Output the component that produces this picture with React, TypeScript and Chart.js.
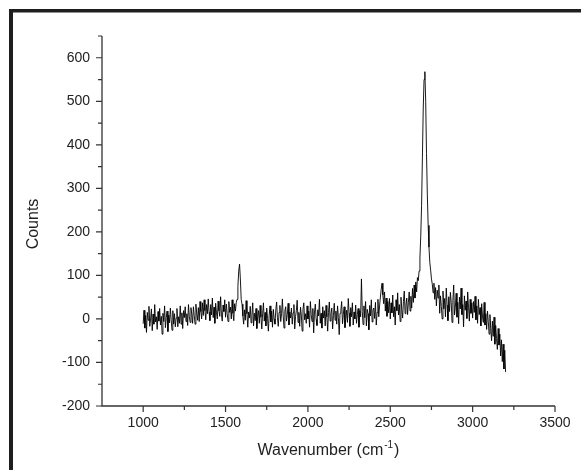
import React, { useEffect, useRef } from "react";
import { Chart, registerables } from "chart.js";

Chart.register(...registerables);

const WAVENUMBERS = [
  1000, 1005, 1010, 1015, 1020, 1025, 1030, 1035, 1040, 1045, 1050, 1055, 1060, 1065, 1070, 1075, 1080, 1085, 1090, 1095,
  1100, 1105, 1110, 1115, 1120, 1125, 1130, 1135, 1140, 1145, 1150, 1155, 1160, 1165, 1170, 1175, 1180, 1185, 1190, 1195,
  1200, 1205, 1210, 1215, 1220, 1225, 1230, 1235, 1240, 1245, 1250, 1255, 1260, 1265, 1270, 1275, 1280, 1285, 1290, 1295,
  1300, 1305, 1310, 1315, 1320, 1325, 1330, 1335, 1340, 1345, 1350, 1355, 1360, 1365, 1370, 1375, 1380, 1385, 1390, 1395,
  1400, 1405, 1410, 1415, 1420, 1425, 1430, 1435, 1440, 1445, 1450, 1455, 1460, 1465, 1470, 1475, 1480, 1485, 1490, 1495,
  1500, 1505, 1510, 1515, 1520, 1525, 1530, 1535, 1540, 1545, 1550, 1555, 1560, 1565, 1570, 1575, 1580, 1585, 1590, 1595,
  1600, 1605, 1610, 1615, 1620, 1625, 1630, 1635, 1640, 1645, 1650, 1655, 1660, 1665, 1670, 1675, 1680, 1685, 1690, 1695,
  1700, 1705, 1710, 1715, 1720, 1725, 1730, 1735, 1740, 1745, 1750, 1755, 1760, 1765, 1770, 1775, 1780, 1785, 1790, 1795,
  1800, 1805, 1810, 1815, 1820, 1825, 1830, 1835, 1840, 1845, 1850, 1855, 1860, 1865, 1870, 1875, 1880, 1885, 1890, 1895,
  1900, 1905, 1910, 1915, 1920, 1925, 1930, 1935, 1940, 1945, 1950, 1955, 1960, 1965, 1970, 1975, 1980, 1985, 1990, 1995,
  2000, 2005, 2010, 2015, 2020, 2025, 2030, 2035, 2040, 2045, 2050, 2055, 2060, 2065, 2070, 2075, 2080, 2085, 2090, 2095,
  2100, 2105, 2110, 2115, 2120, 2125, 2130, 2135, 2140, 2145, 2150, 2155, 2160, 2165, 2170, 2175, 2180, 2185, 2190, 2195,
  2200, 2205, 2210, 2215, 2220, 2225, 2230, 2235, 2240, 2245, 2250, 2255, 2260, 2265, 2270, 2275, 2280, 2285, 2290, 2295,
  2300, 2305, 2310, 2315, 2320, 2325, 2330, 2335, 2340, 2345, 2350, 2355, 2360, 2365, 2370, 2375, 2380, 2385, 2390, 2395,
  2400, 2405, 2410, 2415, 2420, 2425, 2430, 2435, 2440, 2445, 2450, 2455, 2460, 2465, 2470, 2475, 2480, 2485, 2490, 2495,
  2500, 2505, 2510, 2515, 2520, 2525, 2530, 2535, 2540, 2545, 2550, 2555, 2560, 2565, 2570, 2575, 2580, 2585, 2590, 2595,
  2600, 2605, 2610, 2615, 2620, 2625, 2630, 2635, 2640, 2645, 2650, 2655, 2660, 2665, 2670, 2675, 2680, 2685, 2690, 2695,
  2700, 2705, 2710, 2715, 2720, 2725, 2730, 2735, 2740, 2745, 2750, 2755, 2760, 2765, 2770, 2775, 2780, 2785, 2790, 2795,
  2800, 2805, 2810, 2815, 2820, 2825, 2830, 2835, 2840, 2845, 2850, 2855, 2860, 2865, 2870, 2875, 2880, 2885, 2890, 2895,
  2900, 2905, 2910, 2915, 2920, 2925, 2930, 2935, 2940, 2945, 2950, 2955, 2960, 2965, 2970, 2975, 2980, 2985, 2990, 2995,
  3000, 3005, 3010, 3015, 3020, 3025, 3030, 3035, 3040, 3045, 3050, 3055, 3060, 3065, 3070, 3075, 3080, 3085, 3090, 3095,
  3100, 3105, 3110, 3115, 3120, 3125, 3130, 3135, 3140, 3145, 3150, 3155, 3160, 3165, 3170, 3175, 3180, 3185, 3190, 3195,
  3200,
];

const COUNTS = [
  -11, 20, -21, 8, -31, 15, -3, 29, -17, 0, 23, -27, 11, -12, 33, -7, 5, -24, 17, -5,
  24, -14, 6, -35, 13, -6, 30, -20, 3, 18, -29, 9, -9, 25, -2, -26, 19, -12, 12, -18,
  2, 24, -18, 5, -10, 30, -12, 14, -22, 19, 3, 28, -6, 12, -15, 33, 6, -8, 26, 11,
  -10, 28, 8, -12, 34, 13, -3, 26, -6, 40, 17, 0, 37, 8, 44, 19, -2, 33, 12, 46,
  16, -4, 33, 9, 48, 3, 27, -10, 36, 14, 0, 41, 19, 6, 51, 11, -5, 32, 17, 44,
  4, 34, 12, -6, 40, 15, 27, 0, 44, 13, -4, 35, 18, 38, 45, 75, 110, 126, 92, 45,
  34, 7, -12, 21, -3, 42, 12, -19, 16, 2, 29, -9, 8, 37, -16, 13, -4, 24, -22, 5,
  19, -10, 31, 4, -23, 12, 37, -5, 15, -16, 25, 1, -28, 9, 30, -7, 18, -19, 22, 0,
  -12, 21, 39, 3, -17, 15, 31, -6, 12, 46, 7, -21, 18, 28, -5, 10, 36, -14, 16, 2,
  25, -12, 14, 33, -23, 6, 20, 43, -8, 15, -17, 27, 9, -28, 22, 37, -2, 12, -10, 30,
  0, 18, -19, 40, 10, -6, 24, -32, 16, 34, -1, -15, 21, 7, 45, -10, 13, -21, 28, 2,
  19, -16, 31, 5, -28, 15, 39, -5, 12, 25, -23, 8, 36, -3, 18, -12, 30, 3, -36, 13,
  20, 40, -11, 10, 28, -20, 1, 20, -8, 47, 14, -17, 26, 5, 37, -14, 16, 0, 32, -10,
  10, 24, -19, 19, 5, 92, 17, -13, 30, 3, 40, -16, 22, 12, -25, 31, 7, 44, -7, 20,
  25, 1, 38, -14, 15, 45, 5, 30, 50, 68, 82, 55, 35, 62, 18, 48, 6, 40, 14, 47,
  0, 37, 14, 55, 5, 28, -14, 44, 19, 60, 9, 33, -6, 50, 22, 2, 40, 64, 12, 31,
  48, 10, 38, 62, 18, 52, 25, 70, 38, 78, 48, 85, 62, 95, 88, 110, 140, 190, 260, 370,
  480, 550, 568, 500, 380, 285, 215, 165, 130, 112, 92, 80, 60, 82, 45, 72, 30, 66, 48, 78,
  13, 53, 29, 0, 64, 23, 47, 5, 71, 32, -4, 51, 17, 61, 38, -8, 42, 78, 9, 27,
  59, 4, 38, -11, 50, 23, 71, 10, 33, -18, 53, 20, 41, 1, 62, 27, -5, 45, 13, 37,
  2, 40, 15, 52, -2, 30, -10, 45, 10, 26, -16, 35, 4, -8, 38, -14, 12, -24, 18, -6,
  -35, 10, -22, -50, -5, -40, 4, -58, -15, -45, -70, -22, -60, -35, -85, -48, -98, -58, -115, -72,
  -122,
];

const X_MIN = 750;
const X_MAX = 3500;
const Y_MIN = -200;
const Y_MAX = 650;
const X_MAJOR_TICKS = [1000, 1500, 2000, 2500, 3000, 3500];
const X_MINOR_TICKS = [1250, 1750, 2250, 2750, 3250];
const Y_MAJOR_TICKS = [-200, -100, 0, 100, 200, 300, 400, 500, 600];
const Y_MINOR_TICKS = [-150, -50, 50, 150, 250, 350, 450, 550, 650];
const X_TITLE_MAIN = "Wavenumber (cm";
const X_TITLE_SUP = "-1";
const X_TITLE_END = ")";
const Y_TITLE = "Counts";

const FONT_FAMILY = "'Liberation Sans', Arial, Helvetica, sans-serif";
const INK = "#222222";
const AXIS_COLOR = "#333333";

const decorPlugin = {
  id: "decor",
  beforeDraw(chart: any) {
    const ctx = chart.ctx;
    ctx.save();
    ctx.fillStyle = "#ffffff";
    ctx.fillRect(0, 0, chart.width, chart.height);
    ctx.fillStyle = "#1e1e1e";
    ctx.fillRect(9, 9, 4, chart.height - 9);
    ctx.fillRect(9, 9, chart.width - 9, 3.5);
    ctx.restore();
  },
  afterDraw(chart: any) {
    const ctx = chart.ctx;
    const xs = chart.scales.x;
    const ys = chart.scales.y;
    const { left, right, top, bottom } = chart.chartArea;
    ctx.save();
    ctx.strokeStyle = AXIS_COLOR;
    ctx.lineWidth = 1.3;
    ctx.beginPath();
    ctx.moveTo(left, top);
    ctx.lineTo(left, bottom);
    ctx.lineTo(right, bottom);
    ctx.stroke();
    ctx.lineWidth = 1.2;
    ctx.beginPath();
    for (const v of X_MAJOR_TICKS) {
      const px = xs.getPixelForValue(v);
      ctx.moveTo(px, bottom);
      ctx.lineTo(px, bottom + 6);
    }
    for (const v of X_MINOR_TICKS) {
      const px = xs.getPixelForValue(v);
      ctx.moveTo(px, bottom);
      ctx.lineTo(px, bottom + 4);
    }
    for (const v of Y_MAJOR_TICKS) {
      const py = ys.getPixelForValue(v);
      ctx.moveTo(left, py);
      ctx.lineTo(left - 6, py);
    }
    for (const v of Y_MINOR_TICKS) {
      const py = ys.getPixelForValue(v);
      ctx.moveTo(left, py);
      ctx.lineTo(left - 4, py);
    }
    ctx.stroke();

    ctx.fillStyle = INK;
    ctx.save();
    ctx.translate(38, 224);
    ctx.rotate(-Math.PI / 2);
    ctx.font = `16px ${FONT_FAMILY}`;
    ctx.textAlign = "center";
    ctx.textBaseline = "alphabetic";
    ctx.fillText(Y_TITLE, 0, 0);
    ctx.restore();

    ctx.textBaseline = "alphabetic";
    ctx.textAlign = "left";
    ctx.font = `16px ${FONT_FAMILY}`;
    const w1 = ctx.measureText(X_TITLE_MAIN).width;
    const w3 = ctx.measureText(X_TITLE_END).width;
    ctx.font = `10px ${FONT_FAMILY}`;
    const w2 = ctx.measureText(X_TITLE_SUP).width;
    const total = w1 + 1 + w2 + 1 + w3;
    const x0 = 328.5 - total / 2;
    const base = 455;
    ctx.font = `16px ${FONT_FAMILY}`;
    ctx.fillText(X_TITLE_MAIN, x0, base);
    ctx.font = `10px ${FONT_FAMILY}`;
    ctx.fillText(X_TITLE_SUP, x0 + w1 + 1, base - 7);
    ctx.font = `16px ${FONT_FAMILY}`;
    ctx.fillText(X_TITLE_END, x0 + w1 + 1 + w2 + 1, base);
    ctx.restore();
  },
};

export default function App() {
  const canvasRef = useRef<HTMLCanvasElement | null>(null);

  useEffect(() => {
    const canvas = canvasRef.current;
    if (!canvas) return;
    const points = WAVENUMBERS.map((x, i) => ({ x, y: COUNTS[i] }));
    const chart = new Chart(canvas, {
      type: "line",
      data: {
        datasets: [
          {
            data: points,
            borderColor: "#000000",
            borderWidth: 0.9,
            pointRadius: 0,
            tension: 0,
            fill: false,
          },
        ],
      },
      options: {
        animation: false,
        responsive: false,
        events: [],
        layout: { padding: { left: 0, right: 26, top: 36, bottom: 0 } },
        plugins: {
          legend: { display: false },
          tooltip: { enabled: false },
        },
        scales: {
          x: {
            type: "linear",
            min: X_MIN,
            max: X_MAX,
            grid: { display: false, drawTicks: false },
            border: { display: false },
            afterBuildTicks: (s: any) => {
              s.ticks = X_MAJOR_TICKS.map((v) => ({ value: v }));
            },
            afterFit: (s: any) => {
              s.height = 64;
            },
            ticks: {
              padding: 9,
              maxRotation: 0,
              autoSkip: false,
              color: INK,
              font: { family: FONT_FAMILY, size: 14 },
              callback: (v: any) => String(v),
            },
          },
          y: {
            type: "linear",
            min: Y_MIN,
            max: Y_MAX,
            grid: { display: false, drawTicks: false },
            border: { display: false },
            afterBuildTicks: (s: any) => {
              s.ticks = Y_MAJOR_TICKS.map((v) => ({ value: v }));
            },
            afterFit: (s: any) => {
              s.width = 102;
            },
            ticks: {
              padding: 12,
              autoSkip: false,
              color: INK,
              font: { family: FONT_FAMILY, size: 14 },
              callback: (v: any) => String(v),
            },
          },
        },
      },
      plugins: [decorPlugin],
    });
    return () => chart.destroy();
  }, []);

  return (
    <div style={{ position: "fixed", left: 0, top: 0, width: 581, height: 470, background: "#fff" }}>
      <canvas ref={canvasRef} width={581} height={470} style={{ display: "block", width: 581, height: 470 }} />
    </div>
  );
}
